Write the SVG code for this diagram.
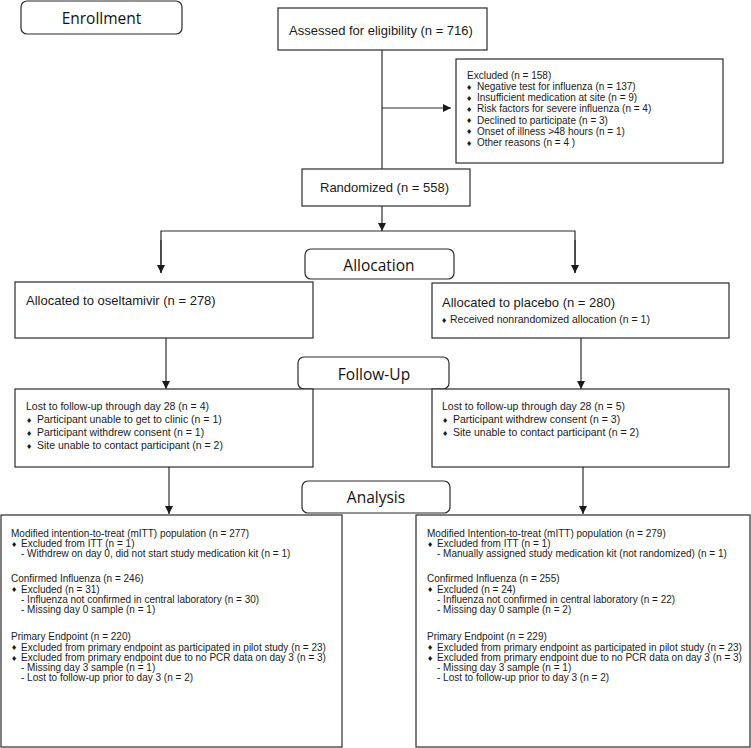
<svg xmlns="http://www.w3.org/2000/svg" width="751" height="748" viewBox="0 0 751 748">
<style>
.box{fill:#fff;stroke:#2a2a2a;stroke-width:1.2}
.hdr{fill:#fff;stroke:#2a2a2a;stroke-width:1.2}
.ln{fill:none;stroke:#2a2a2a;stroke-width:1.2}
.h{font-family:"Open Sans","Liberation Sans",sans-serif;font-size:15.5px;fill:#111;text-anchor:middle}
.t13{font-family:"Liberation Sans",Arial,sans-serif;font-size:13px;fill:#1a1a1a}
.t10{font-family:"Liberation Sans",Arial,sans-serif;font-size:10px;fill:#1a1a1a}
.t105{font-family:"Liberation Sans",Arial,sans-serif;font-size:10.5px;fill:#1a1a1a}
.b{font-family:"DejaVu Sans",sans-serif;font-size:7px;fill:#1a1a1a}
</style>
<defs>
<marker id="ah" viewBox="0 0 10 10" refX="10" refY="5" markerWidth="8" markerHeight="8" markerUnits="userSpaceOnUse" orient="auto">
<path d="M0,0 L10,5 L0,10 z" fill="#1a1a1a"/>
</marker>
</defs>

<g id="connectors">
<line class="ln" x1="382" y1="50" x2="382" y2="169"/>
<line class="ln" x1="382" y1="108" x2="451" y2="108" marker-end="url(#ah)"/>
<line class="ln" x1="382" y1="206" x2="382" y2="231" marker-end="url(#ah)"/>
<polyline class="ln" points="161,273 161,231 575,231 575,273" />
<line class="ln" x1="161" y1="240" x2="161" y2="273" marker-end="url(#ah)"/>
<line class="ln" x1="575" y1="240" x2="575" y2="273" marker-end="url(#ah)"/>
<line class="ln" x1="166" y1="338" x2="166" y2="389" marker-end="url(#ah)"/>
<line class="ln" x1="581" y1="338" x2="581" y2="389" marker-end="url(#ah)"/>
<line class="ln" x1="169" y1="467" x2="169" y2="514" marker-end="url(#ah)"/>
<line class="ln" x1="583" y1="467" x2="583" y2="514" marker-end="url(#ah)"/>
</g>

<g id="enrollment">
<rect class="hdr" x="21" y="1" width="161" height="33" rx="6"/>
<text class="h" x="101.5" y="24">Enrollment</text>
</g>

<g id="assessed">
<rect class="box" x="278" y="8" width="209" height="42"/>
<text class="t13" x="289" y="35">Assessed for eligibility (n = 716)</text>
</g>

<g id="excluded">
<rect class="box" x="456" y="59" width="267" height="104"/>
<text class="t10" x="467" y="79">Excluded (n = 158)</text>
<text class="b" x="466" y="89.5">♦</text><text class="t10" x="477" y="90">Negative test for influenza (n = 137)</text>
<text class="b" x="466" y="100.7">♦</text><text class="t10" x="477" y="101.2">Insufficient medication at site (n = 9)</text>
<text class="b" x="466" y="111.9">♦</text><text class="t10" x="477" y="112.4">Risk factors for severe influenza (n = 4)</text>
<text class="b" x="466" y="123.1">♦</text><text class="t10" x="477" y="123.6">Declined to participate (n = 3)</text>
<text class="b" x="466" y="134.3">♦</text><text class="t10" x="477" y="134.8">Onset of illness &gt;48 hours (n = 1)</text>
<text class="b" x="466" y="145.5">♦</text><text class="t10" x="477" y="146">Other reasons (n = 4 )</text>
</g>

<g id="randomized">
<rect class="box" x="302" y="169" width="168" height="37"/>
<text class="t13" x="320" y="192">Randomized (n = 558)</text>
</g>

<g id="allocation">
<rect class="hdr" x="305" y="249" width="149" height="30" rx="6"/>
<text class="h" x="379" y="271">Allocation</text>
</g>

<g id="alloc-oseltamivir">
<rect class="box" x="15" y="282" width="298" height="56"/>
<text class="t13" x="26" y="305">Allocated to oseltamivir (n = 278)</text>
</g>

<g id="alloc-placebo">
<rect class="box" x="432" y="283" width="297" height="55"/>
<text class="t13" x="442" y="307">Allocated to placebo (n = 280)</text>
<text class="b" x="441" y="322.5">♦</text><text class="t105" x="450" y="323">Received nonrandomized allocation (n = 1)</text>
</g>

<g id="followup">
<rect class="hdr" x="298" y="357" width="151" height="32" rx="6"/>
<text class="h" x="374" y="380">Follow-Up</text>
</g>

<g id="followup-oseltamivir">
<rect class="box" x="15" y="389" width="298" height="78"/>
<text class="t105" x="26" y="410">Lost to follow-up through day 28 (n = 4)</text>
<text class="b" x="26" y="422.5">♦</text><text class="t105" x="37" y="423">Participant unable to get to clinic (n = 1)</text>
<text class="b" x="26" y="435.5">♦</text><text class="t105" x="37" y="436">Participant withdrew consent (n = 1)</text>
<text class="b" x="26" y="448.5">♦</text><text class="t105" x="37" y="449">Site unable to contact participant (n = 2)</text>
</g>

<g id="followup-placebo">
<rect class="box" x="432" y="389" width="297" height="78"/>
<text class="t105" x="442" y="410">Lost to follow-up through day 28 (n = 5)</text>
<text class="b" x="442" y="422.5">♦</text><text class="t105" x="453" y="423">Participant withdrew consent (n = 3)</text>
<text class="b" x="442" y="435.5">♦</text><text class="t105" x="453" y="436">Site unable to contact participant (n = 2)</text>
</g>

<g id="analysis">
<rect class="hdr" x="302" y="481" width="148" height="32" rx="6"/>
<text class="h" x="376" y="503">Analysis</text>
</g>

<g id="analysis-oseltamivir">
<rect class="box" x="1" y="515" width="341" height="232"/>
<text class="t10" x="11" y="536.5">Modified intention-to-treat (mITT) population (n = 277)</text>
<text class="b" x="11" y="546.5">♦</text><text class="t10" x="21" y="547">Excluded from ITT (n = 1)</text>
<text class="t10" x="21" y="557.3">- Withdrew on day 0, did not start study medication kit (n = 1)</text>
<text class="t10" x="11" y="582">Confirmed Influenza (n = 246)</text>
<text class="b" x="11" y="592">♦</text><text class="t10" x="21" y="592.5">Excluded (n = 31)</text>
<text class="t10" x="21" y="603">- Influenza not confirmed in central laboratory (n = 30)</text>
<text class="t10" x="21" y="613.3">- Missing day 0 sample (n = 1)</text>
<text class="t10" x="11" y="640">Primary Endpoint (n = 220)</text>
<text class="b" x="11" y="650">♦</text><text class="t10" x="21" y="650.5">Excluded from primary endpoint as participated in pilot study (n = 23)</text>
<text class="b" x="11" y="660.5">♦</text><text class="t10" x="21" y="661">Excluded from primary endpoint due to no PCR data on day 3 (n = 3)</text>
<text class="t10" x="21" y="671">- Missing day 3 sample (n = 1)</text>
<text class="t10" x="21" y="681">- Lost to follow-up prior to day 3 (n = 2)</text>
</g>

<g id="analysis-placebo">
<rect class="box" x="416" y="515" width="334" height="232"/>
<text class="t10" x="427" y="536.5">Modified Intention-to-treat (mITT) population (n = 279)</text>
<text class="b" x="427" y="546.5">♦</text><text class="t10" x="437" y="547">Excluded from ITT (n = 1)</text>
<text class="t10" x="437" y="557.3">- Manually assigned study medication kit (not randomized) (n = 1)</text>
<text class="t10" x="427" y="582">Confirmed Influenza (n = 255)</text>
<text class="b" x="427" y="592">♦</text><text class="t10" x="437" y="592.5">Excluded (n = 24)</text>
<text class="t10" x="437" y="603">- Influenza not confirmed in central laboratory (n = 22)</text>
<text class="t10" x="437" y="613.3">- Missing day 0 sample (n = 2)</text>
<text class="t10" x="427" y="640">Primary Endpoint (n = 229)</text>
<text class="b" x="427" y="650">♦</text><text class="t10" x="437" y="650.5">Excluded from primary endpoint as participated in pilot study (n = 23)</text>
<text class="b" x="427" y="660.5">♦</text><text class="t10" x="437" y="661">Excluded from primary endpoint due to no PCR data on day 3 (n = 3)</text>
<text class="t10" x="437" y="671">- Missing day 3 sample (n = 1)</text>
<text class="t10" x="437" y="681">- Lost to follow-up prior to day 3 (n = 2)</text>
</g>
</svg>
